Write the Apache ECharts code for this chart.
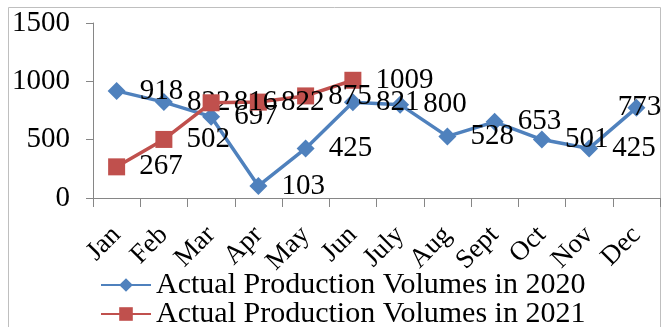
<!DOCTYPE html>
<html>
<head>
<meta charset="utf-8">
<script src="https://cdn.jsdelivr.net/npm/echarts@6/dist/echarts.min.js"></script>
<style>
  html, body { margin: 0; padding: 0; background: #fff; }
  #chart { width: 662px; height: 327px; }
</style>
</head>
<body>
<div id="chart"></div>
<script>
// Monthly production volumes
const months = ['Jan', 'Feb', 'Mar', 'Apr', 'May', 'Jun', 'July', 'Aug', 'Sept', 'Oct', 'Nov', 'Dec'];
const volumes2020 = [918, 822, 697, 103, 425, 821, 800, 528, 653, 501, 425, 773];
const volumes2021 = [267, 502, 816, 822, 875, 1009];
const yTicks = [0, 500, 1000, 1500];
const seriesNames = ['Actual Production Volumes in 2020', 'Actual Production Volumes in 2021'];

const FONT = '"Liberation Serif", "Times New Roman", serif';
const BLUE = '#4F81BD';
const RED = '#C0504D';
const AXIS = '#868686';

// Last point of 2020 keeps its label inside the chart edge
const data2020 = volumes2020.map((v, i) =>
  i === volumes2020.length - 1
    ? { value: v, label: { position: 'inside', offset: [3, 0] } }
    : v
);

// One legend row per series, stacked under the axis labels
function legendRow(name, top) {
  return {
    orient: 'vertical',
    left: 100,
    top: top,
    padding: 0,
    itemWidth: 50,
    itemHeight: 17,
    textStyle: { fontFamily: FONT, fontSize: 30, color: '#000', lineHeight: 30 },
    data: [name]
  };
}

const chart = echarts.init(document.getElementById('chart'));
chart.setOption({
  animation: false,
  textStyle: { fontFamily: FONT },
  graphic: [{
    type: 'rect',
    shape: { x: 8.5, y: 7.5, width: 652, height: 340 },
    style: { fill: 'none', stroke: '#BFBFBF', lineWidth: 1 },
    silent: true
  }],
  grid: { left: 93, right: 2, top: 23, bottom: 129 },
  legend: [legendRow(seriesNames[0], 270), legendRow(seriesNames[1], 299)],
  xAxis: {
    type: 'category',
    data: months,
    boundaryGap: true,
    axisLine: { show: true, lineStyle: { color: AXIS, width: 1 } },
    axisTick: { show: true, interval: 0, length: 9, lineStyle: { color: AXIS } },
    axisLabel: {
      interval: 0,
      rotate: 45,
      margin: 33,
      padding: [20, 0, 0, 0],
      fontFamily: FONT,
      fontSize: 27,
      color: '#000'
    },
    splitLine: { show: false }
  },
  yAxis: {
    type: 'value',
    min: yTicks[0],
    max: yTicks[yTicks.length - 1],
    interval: yTicks[1] - yTicks[0],
    axisLine: { show: true, lineStyle: { color: AXIS, width: 1 } },
    axisTick: { show: true, length: 7, lineStyle: { color: AXIS } },
    axisLabel: {
      margin: 23,
      fontFamily: FONT,
      fontSize: 29,
      color: '#000',
      formatter: (v) => String(v)
    },
    splitLine: { show: false }
  },
  series: [
    {
      name: seriesNames[0],
      type: 'line',
      data: data2020,
      color: BLUE,
      symbol: 'diamond',
      symbolSize: 18,
      lineStyle: { width: 3.5, color: BLUE },
      itemStyle: { color: BLUE },
      label: {
        show: true,
        position: 'right',
        distance: 14,
        fontFamily: FONT,
        fontSize: 29,
        color: '#000'
      },
      z: 2
    },
    {
      name: seriesNames[1],
      type: 'line',
      data: volumes2021,
      color: RED,
      symbol: 'rect',
      symbolSize: 17,
      lineStyle: { width: 3.5, color: RED },
      itemStyle: { color: RED },
      label: {
        show: true,
        position: 'right',
        distance: 14,
        fontFamily: FONT,
        fontSize: 29,
        color: '#000'
      },
      z: 3
    }
  ]
});
</script>
</body>
</html>
